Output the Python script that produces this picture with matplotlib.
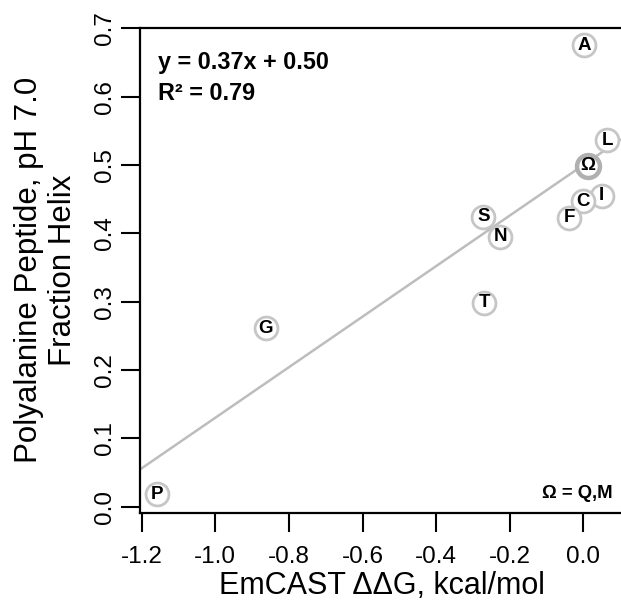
import matplotlib
matplotlib.use("Agg")
import matplotlib.pyplot as plt

plt.rcParams['font.family'] = ['Liberation Sans', 'DejaVu Sans']

# Residue substitutions: EmCAST ddG vs. measured helix fraction
residues = ['A', 'L', 'Ω', 'I', 'C', 'F', 'S', 'N', 'T', 'G', 'P']
ddg = [0.002, 0.064, 0.012, 0.050, -0.002, -0.038, -0.272, -0.226, -0.270, -0.863, -1.158]
helix = [0.675, 0.536, 0.499, 0.455, 0.447, 0.423, 0.424, 0.395, 0.298, 0.261, 0.018]

slope = 0.37
intercept = 0.50
r_squared = 0.79

xticks = [-1.2, -1.0, -0.8, -0.6, -0.4, -0.2, 0.0]
yticks = [0.0, 0.1, 0.2, 0.3, 0.4, 0.5, 0.6, 0.7]

W, H = 621, 602
fig = plt.figure(figsize=(W / 100, H / 100), dpi=100)
ax = fig.add_axes([139.5 / W, 1 - 512.7 / H, 1 - 139.5 / W, (512.7 - 28.3) / H])

xmin, xmax = -1.206, 0.102
ax.set_xlim(xmin, xmax)
ax.set_ylim(-0.009, 0.700)

# fitted line
ax.plot([xmin, xmax], [slope * xmin + intercept, slope * xmax + intercept],
        color='#bdbdbd', lw=1.8, zorder=1, solid_capstyle='butt')

# labelled points
ax.scatter(ddg, helix, s=16.5 ** 2, facecolor='white', edgecolor='#c6c6c6',
           linewidths=2.0, zorder=2)
for r, x, y in zip(residues, ddg, helix):
    if r == 'Ω':
        ax.scatter([x], [y], s=16.5 ** 2, facecolor='white', edgecolor='#b0b0b0',
                   linewidths=3.2, zorder=2)
    ax.text(x, y, r, ha='center', va='center', fontsize=13.5, fontweight='bold',
            zorder=3)

for s in ['top', 'left', 'bottom']:
    ax.spines[s].set_linewidth(1.6)
ax.spines['right'].set_visible(False)

ax.set_xticks(xticks)
ax.set_xticklabels([f"{t:.1f}" for t in xticks])
ax.set_yticks(yticks)
ax.set_yticklabels([f"{t:.1f}" for t in yticks], rotation=90, va='center')
ax.tick_params(axis='both', length=13.7, width=1.5, labelsize=17.5, direction='out')
ax.tick_params(axis='x', pad=10)
ax.tick_params(axis='y', pad=3)

ax.text(0.038, 0.915, f"y = {slope:.2f}x + {intercept:.2f}", transform=ax.transAxes,
        fontsize=16.8, fontweight='bold', va='baseline', ha='left')
ax.text(0.038, 0.853, f"R² = {r_squared:.2f}", transform=ax.transAxes,
        fontsize=16.8, fontweight='bold', va='baseline', ha='left')

fig.text(613 / W, 1 - 498.3 / H, "Ω = Q,M", fontsize=13.3, fontweight='bold',
         ha='right', va='baseline')

fig.text(382 / W, 1 - 594.5 / H, "EmCAST ΔΔG, kcal/mol", fontsize=22,
         ha='center', va='baseline')
fig.text(46 / W, 1 - 270 / H, "Polyalanine Peptide, pH 7.0\nFraction Helix",
         fontsize=22.5, rotation=90, ha='center', va='center', multialignment='center',
         linespacing=1.2)

fig.savefig("out.png", dpi=100)
